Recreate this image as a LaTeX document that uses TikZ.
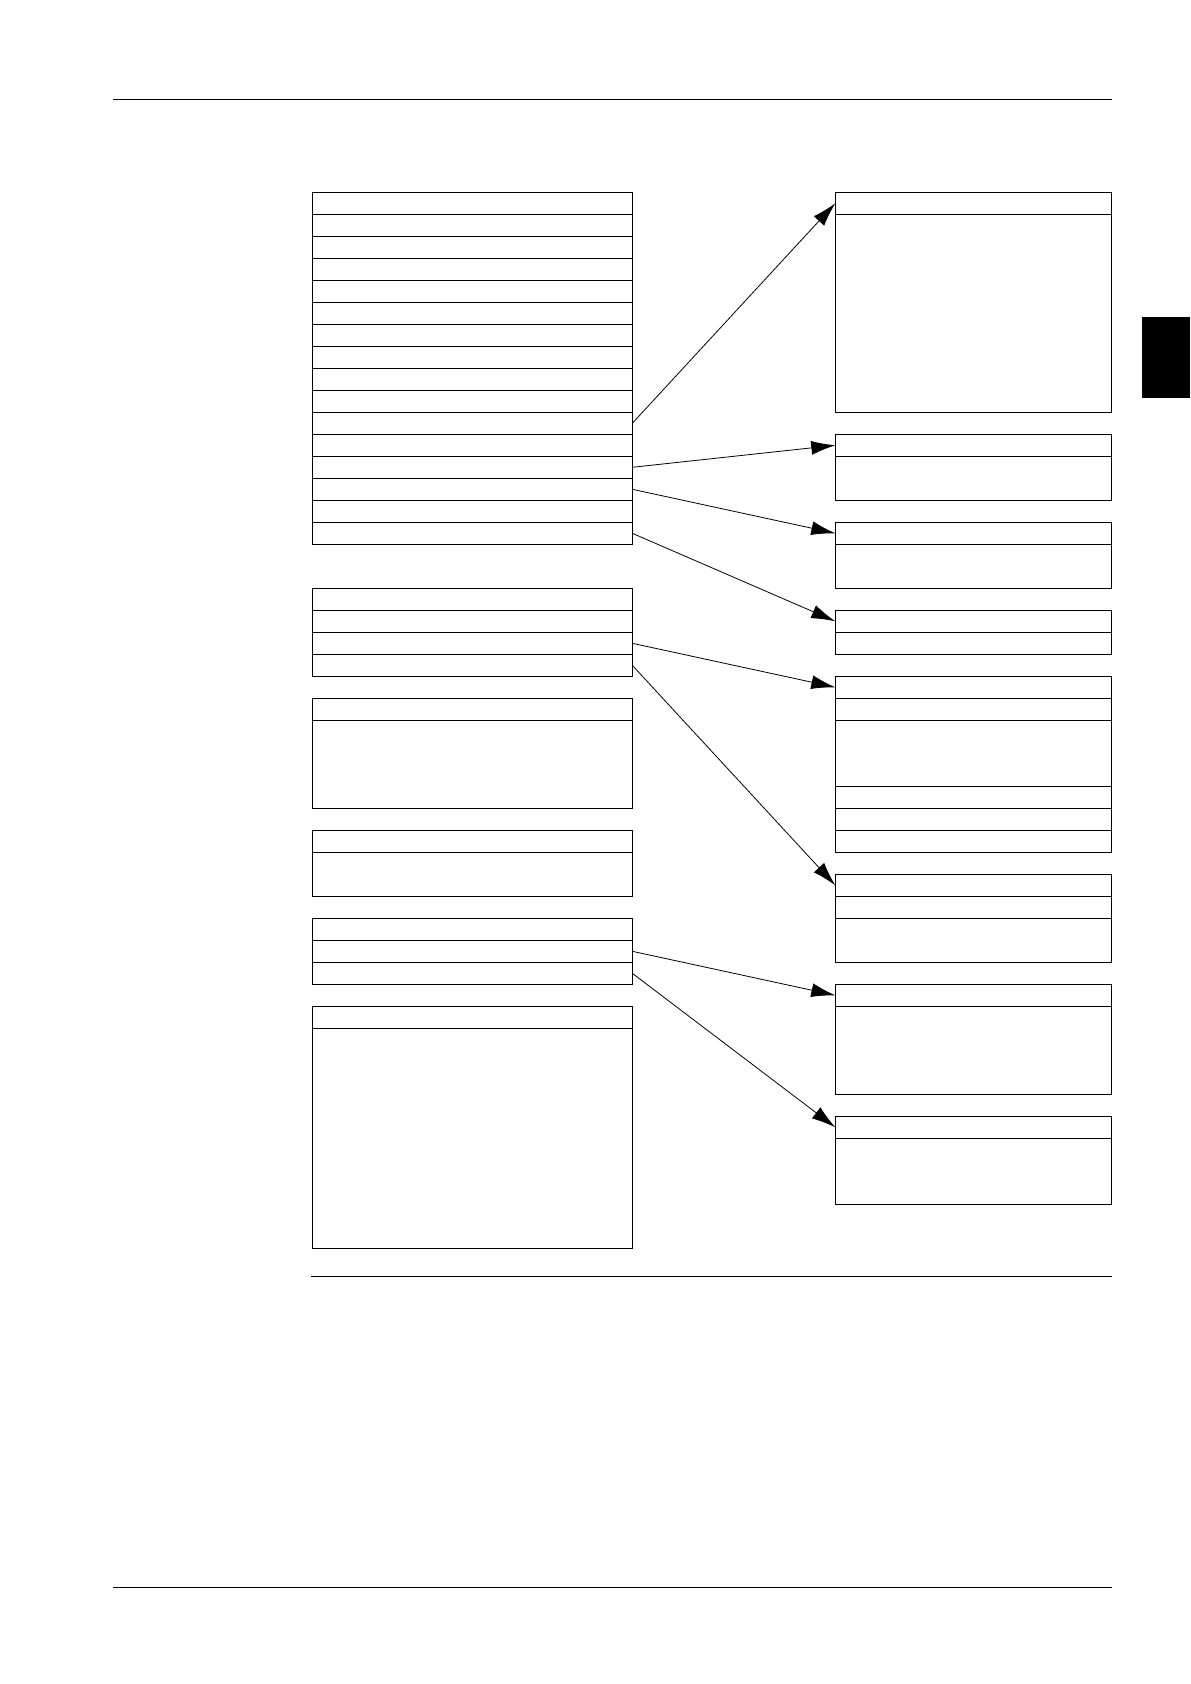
\documentclass[tikz,border=0pt]{standalone}
\usetikzlibrary{positioning,arrows.meta}
\tikzset{
    left-row/.style = {draw, line width=0.6pt, rectangle, minimum width=160pt, minimum height=11pt, inner sep=0pt, outer sep=0pt},
    right-row/.style = {draw, line width=0.6pt, rectangle, minimum width=138pt, minimum height=11pt, inner sep=0pt, outer sep=0pt},
    link/.style = {line width=0.4pt, -{Latex[length=12pt,width=7pt]}},
    page-rule/.style = {line width=0.6pt},
}

\begin{document}
\begin{tikzpicture}[x=0.5pt, y=-0.5pt]
\useasboundingbox (0,0) rectangle (1190,1684);
% page rules and thumb tab
\draw[page-rule] (113,99.3) -- (1111.7,99.3);
\draw[page-rule] (311,1276.3) -- (1111.7,1276.3);
\draw[page-rule] (113,1587.3) -- (1111.7,1587.3);
\fill (1142.3,317) rectangle (1190,398);

% left column
\node[left-row, anchor=north west] (a1) at (312.3,192.3) {};
\foreach \i [remember=\i as \j (initially 1)] in {2,...,16}
    \node[left-row, below=0pt of a\j] (a\i) {};

\node[left-row, anchor=north west] (b1) at (312.3,588.3) {};
\node[left-row, below=0pt of b1] (b2) {};
\node[left-row, below=0pt of b2] (b3) {};
\node[left-row, below=0pt of b3] (b4) {};

\node[left-row, anchor=north west] (c0) at (312.3,698.3) {};
\node[left-row, below=0pt of c0, minimum height=44pt] (c1) {};

\node[left-row, anchor=north west] (d0) at (312.3,830.3) {};
\node[left-row, below=0pt of d0, minimum height=22pt] (d1) {};

\node[left-row, anchor=north west] (e1) at (312.3,918.3) {};
\node[left-row, below=0pt of e1] (e2) {};
\node[left-row, below=0pt of e2] (e3) {};

\node[left-row, anchor=north west] (f0) at (312.3,1006.3) {};
\node[left-row, below=0pt of f0, minimum height=110pt] (f1) {};

% right column
\node[right-row, anchor=north west] (p0) at (835.3,192.3) {};
\node[right-row, below=0pt of p0, minimum height=99pt] (p1) {};

\node[right-row, anchor=north west] (q0) at (835.3,434.3) {};
\node[right-row, below=0pt of q0, minimum height=22pt] (q1) {};

\node[right-row, anchor=north west] (r0) at (835.3,522.3) {};
\node[right-row, below=0pt of r0, minimum height=22pt] (r1) {};

\node[right-row, anchor=north west] (s0) at (835.3,610.3) {};
\node[right-row, below=0pt of s0] (s1) {};

\node[right-row, anchor=north west] (t1) at (835.3,676.3) {};
\node[right-row, below=0pt of t1] (t2) {};
\node[right-row, below=0pt of t2, minimum height=33pt] (t3) {};
\node[right-row, below=0pt of t3] (t4) {};
\node[right-row, below=0pt of t4] (t5) {};
\node[right-row, below=0pt of t5] (t6) {};

\node[right-row, anchor=north west] (u1) at (835.3,874.3) {};
\node[right-row, below=0pt of u1] (u2) {};
\node[right-row, below=0pt of u2, minimum height=22pt] (u3) {};

\node[right-row, anchor=north west] (v0) at (835.3,984.3) {};
\node[right-row, below=0pt of v0, minimum height=44pt] (v1) {};

\node[right-row, anchor=north west] (w0) at (835.3,1116.3) {};
\node[right-row, below=0pt of w0, minimum height=33pt] (w1) {};

% links
\draw[link] (a11.east) -- (p0.west);
\draw[link] (a13.east) -- (q0.west);
\draw[link] (a14.east) -- (r0.west);
\draw[link] (a16.east) -- (s0.west);
\draw[link] (b3.east) -- (t1.west);
\draw[link] (b4.east) -- (u1.west);
\draw[link] (e2.east) -- (v0.west);
\draw[link] (e3.east) -- (w0.west);
\end{tikzpicture}
\end{document}
